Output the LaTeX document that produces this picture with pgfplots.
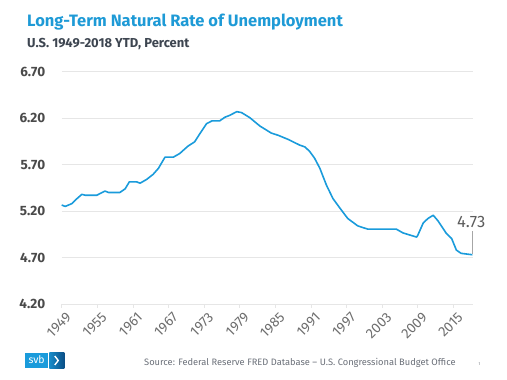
\documentclass[border=0pt]{standalone}
\usepackage{pgfplots}
\pgfplotsset{compat=1.18}
\usepackage{fontspec}
\setmainfont{Fira Sans}
\definecolor{lineblue}{HTML}{1A9BDB}
\definecolor{titleblue}{HTML}{1E9AD6}
\definecolor{subgray}{HTML}{3D4550}
\definecolor{tickgray}{HTML}{4A4A4A}
\definecolor{gridgray}{HTML}{E6E6E6}
\definecolor{srcgray}{HTML}{6A6F78}
\definecolor{svbdark}{HTML}{0B4F86}
\newcommand{\xl}[1]{\scalebox{1.4}{\fontsize{10}{12}\selectfont #1}}
\begin{document}
\begin{tikzpicture}
\useasboundingbox (0pt,0pt) rectangle (507pt,380pt);
\node[anchor=base west,inner sep=0,text=titleblue,font=\fontsize{16.5}{18}\selectfont\bfseries] at (27pt,353.5pt) {Long-Term Natural Rate of Unemployment};
\node[anchor=base west,inner sep=0,text=subgray,font=\fontsize{13}{15}\selectfont\bfseries] at (27pt,332.7pt) {U.S. 1949-2018 YTD, Percent};
\begin{axis}[
  at={(61.7pt,76pt)}, anchor=south west,
  width=411.3pt, height=232.3pt, scale only axis,
  xmin=1949, xmax=2018.3, ymin=4.2, ymax=6.7,
  axis line style={draw=none},
  ytick={4.2,4.7,5.2,5.7,6.2,6.7},
  yticklabels={4.20,4.70,5.20,5.70,6.20,6.70},
  xtick={1949,1955,1961,1967,1973,1979,1985,1991,1997,2003,2009,2015},
  xticklabels={\xl{1949},\xl{1955},\xl{1961},\xl{1967},\xl{1973},\xl{1979},\xl{1985},\xl{1991},\xl{1997},\xl{2003},\xl{2009},\xl{2015}},
  ymajorgrids, grid style={gridgray,line width=0.8pt},
  ytick style={draw=none},
  xtick style={draw=gridgray,line width=0.8pt},
  xtick pos=bottom, tick align=outside, major tick length=4pt,
  /pgf/number format/assume math mode=true,
  yticklabel style={font=\fontsize{13.5}{15}\selectfont\bfseries, text=tickgray, xshift=-9pt},
  xticklabel style={text=tickgray!80, rotate=45, anchor=north east, inner sep=1pt, yshift=-4pt, xshift=1pt},
  clip=false,
]
\draw[gridgray,line width=0.8pt] (axis cs:1949,4.2) -- (axis cs:2018.3,4.2);
\addplot[lineblue, line width=1.6pt, line join=round] coordinates {
(1949.0,5.265) (1949.6,5.25) (1950.7,5.28) (1951.5,5.33) (1952.4,5.38) (1953.0,5.37)
(1954.9,5.37) (1955.5,5.39) (1956.3,5.415) (1956.9,5.40) (1958.8,5.40) (1959.7,5.44)
(1960.4,5.515) (1961.6,5.515) (1962.2,5.50) (1963.3,5.54) (1964.4,5.595) (1965.3,5.66)
(1966.4,5.78) (1967.8,5.78) (1968.9,5.82) (1969.5,5.855) (1970.3,5.90) (1971.4,5.945)
(1972.3,6.035) (1973.4,6.14) (1974.3,6.17) (1975.6,6.17) (1976.5,6.21) (1977.3,6.23)
(1978.5,6.27) (1979.3,6.26) (1980.7,6.205) (1982.4,6.115) (1984.3,6.04) (1985.5,6.015)
(1987.2,5.97) (1989.1,5.91) (1990.0,5.89) (1990.8,5.84) (1991.6,5.77) (1992.5,5.66)
(1993.6,5.48) (1994.7,5.335) (1995.9,5.23) (1997.2,5.12) (1998.9,5.04) (2000.6,5.005)
(2003.1,5.005) (2005.4,5.005) (2006.5,4.965) (2008.8,4.92) (2009.0,4.94) (2009.9,5.07)
(2010.7,5.12) (2011.6,5.155) (2012.4,5.095) (2013.8,4.96) (2014.7,4.905) (2015.5,4.78)
(2016.3,4.745) (2018.2,4.73)
};
\draw[gray!70,line width=0.5pt] (axis cs:2018.2,4.74) -- (axis cs:2018.2,4.99);
\node[anchor=base,inner sep=0,text=tickgray!90,font=\fontsize{16.5}{18}\selectfont] at (axis cs:2018.0,5.02) {4.73};
\end{axis}
% logo
\fill[lineblue] (25pt,11.7pt) rectangle (48.3pt,27.3pt);
\shade[left color=lineblue!80!svbdark, right color=svbdark] (49.3pt,11.7pt) rectangle (64.3pt,27.3pt);
\node[text=white,font=\fontsize{10.5}{12}\selectfont,inner sep=0] at (36.6pt,20.2pt) {svb};
\draw[white,line width=1.4pt] (54.8pt,24pt) -- (58.2pt,19.5pt) -- (54.8pt,15pt);
\node[anchor=west,inner sep=0,text=srcgray,font=\fontsize{9.3}{11}\selectfont] at (144pt,17pt) {Source: Federal Reserve FRED Database -- U.S. Congressional Budget Office};
\node[inner sep=0,text=srcgray,font=\fontsize{4}{5}\selectfont] at (479.5pt,16pt) {1};
\end{tikzpicture}
\end{document}
